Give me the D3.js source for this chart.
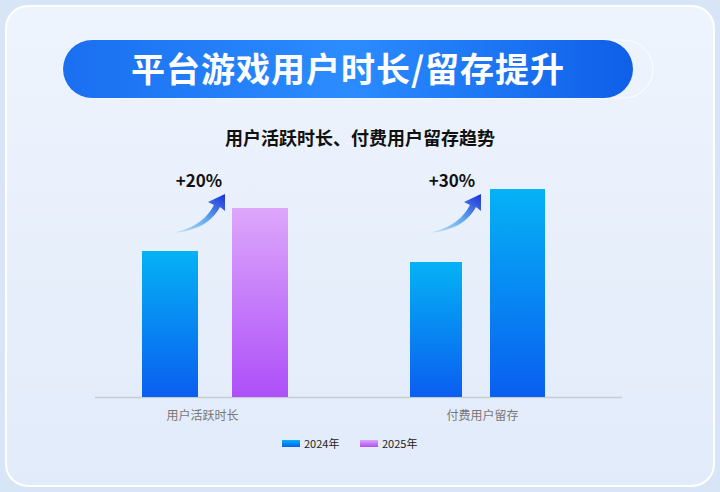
<!DOCTYPE html><html><head><meta charset="utf-8"><script src="https://cdn.jsdelivr.net/npm/d3@7/dist/d3.min.js"></script>
<style>body{margin:0;background:#dfe9f8;font-family:"Noto Sans CJK SC",sans-serif}</style></head><body><svg id="c" width="720" height="492"></svg>
<script>
const categories=["用户活跃时长","付费用户留存"];
const seriesNames=["2024年","2025年"];
const v2024=[146,135];
const v2025=[189,208];
const growthLabels=["+20%","+30%"];
const svg=d3.select("#c");
const defs=svg.append("defs");
function lg(id,stops,x1=0,y1=0,x2=0,y2=1){const g=defs.append("linearGradient").attr("id",id).attr("x1",x1).attr("y1",y1).attr("x2",x2).attr("y2",y2);stops.forEach((s,i)=>g.append("stop").attr("offset",i/(stops.length-1)).attr("stop-color",s));}
lg("bg",["#eef4fd","#e2ebfa"]);
lg("pill",["#1a6ff0","#2b8cff","#0f5fe8"],0,0,1,0);
lg("blue",["#05b2f5","#0a5ef0"]);
lg("purple",["#dda7fb","#ad4ff8"]);
lg("arr",["#cfe8fb","#5fa8f0","#1a2fd6"],0,1,1,0);
svg.append("rect").attr("width",720).attr("height",492).attr("fill","#d8e5f7");
svg.append("rect").attr("x",6).attr("y",6).attr("width",708).attr("height",480).attr("rx",22).attr("fill","url(#bg)").attr("stroke","#fff").attr("stroke-width",2);
svg.append("rect").attr("x",63).attr("y",40).attr("width",590).attr("height",58).attr("rx",29).attr("fill","none").attr("stroke","#fff").attr("stroke-opacity",0.8);
svg.append("rect").attr("x",63).attr("y",40).attr("width",570).attr("height",58).attr("rx",29).attr("fill","url(#pill)");
svg.append("text").attr("x",348).attr("y",82).attr("text-anchor","middle").attr("fill","#fff").attr("font-size",34).attr("font-weight",700).attr("letter-spacing",1).text("平台游戏用户时长/留存提升");
svg.append("text").attr("x",360).attr("y",145).attr("text-anchor","middle").attr("fill","#111").attr("font-size",18).attr("font-weight",700).text("用户活跃时长、付费用户留存趋势");
const x=d3.scaleBand().domain(categories).range([95,625]).padding(0);
const y=d3.scaleLinear().domain([0,250]).range([397,147]);
svg.append("line").attr("x1",95).attr("x2",622).attr("y1",397.5).attr("y2",397.5).attr("stroke","#c5cdd8").attr("stroke-width",1.5);
const offs=[[47,137],[50,130]];
categories.forEach((c,i)=>{
  const x0=x(c), w=[56,52][i];
  const a=x0+offs[i][0], b=x0+offs[i][1];
  svg.append("rect").attr("x",a).attr("y",y(v2024[i])).attr("width",w).attr("height",y(0)-y(v2024[i])).attr("fill","url(#blue)");
  svg.append("rect").attr("x",b).attr("y",y(v2025[i])).attr("width",w+(i?3:0)).attr("height",y(0)-y(v2025[i])).attr("fill",i?"url(#blue)":"url(#purple)");
  svg.append("text").attr("x",x0+x.bandwidth()/2-(i?10:25)).attr("y",420).attr("text-anchor","middle").attr("fill","#777").attr("font-size",12).text(c);
  const ax=a+(i?18:30);
  svg.append("path").attr("d",`M${ax},233 C${ax+26},228 ${ax+36},216 ${ax+42},205 L${ax+36},202 L${ax+53},194 L${ax+53},211 L${ax+48},207 C${ax+40},222 ${ax+25},231 ${ax},233Z`).attr("fill","url(#arr)");
  svg.append("text").attr("x",a+(i?42:57)).attr("y",187).attr("text-anchor","middle").attr("font-size",17).attr("font-weight",700).attr("fill","#111").text(growthLabels[i]);
});
const leg=[{n:seriesNames[0],f:"url(#blue)",x:282},{n:seriesNames[1],f:"url(#purple)",x:360}];
leg.forEach(l=>{svg.append("rect").attr("x",l.x).attr("y",440).attr("width",18).attr("height",7).attr("fill",l.f);
svg.append("text").attr("x",l.x+22).attr("y",448).attr("font-size",11).attr("fill","#222").text(l.n);});
</script></body></html>
